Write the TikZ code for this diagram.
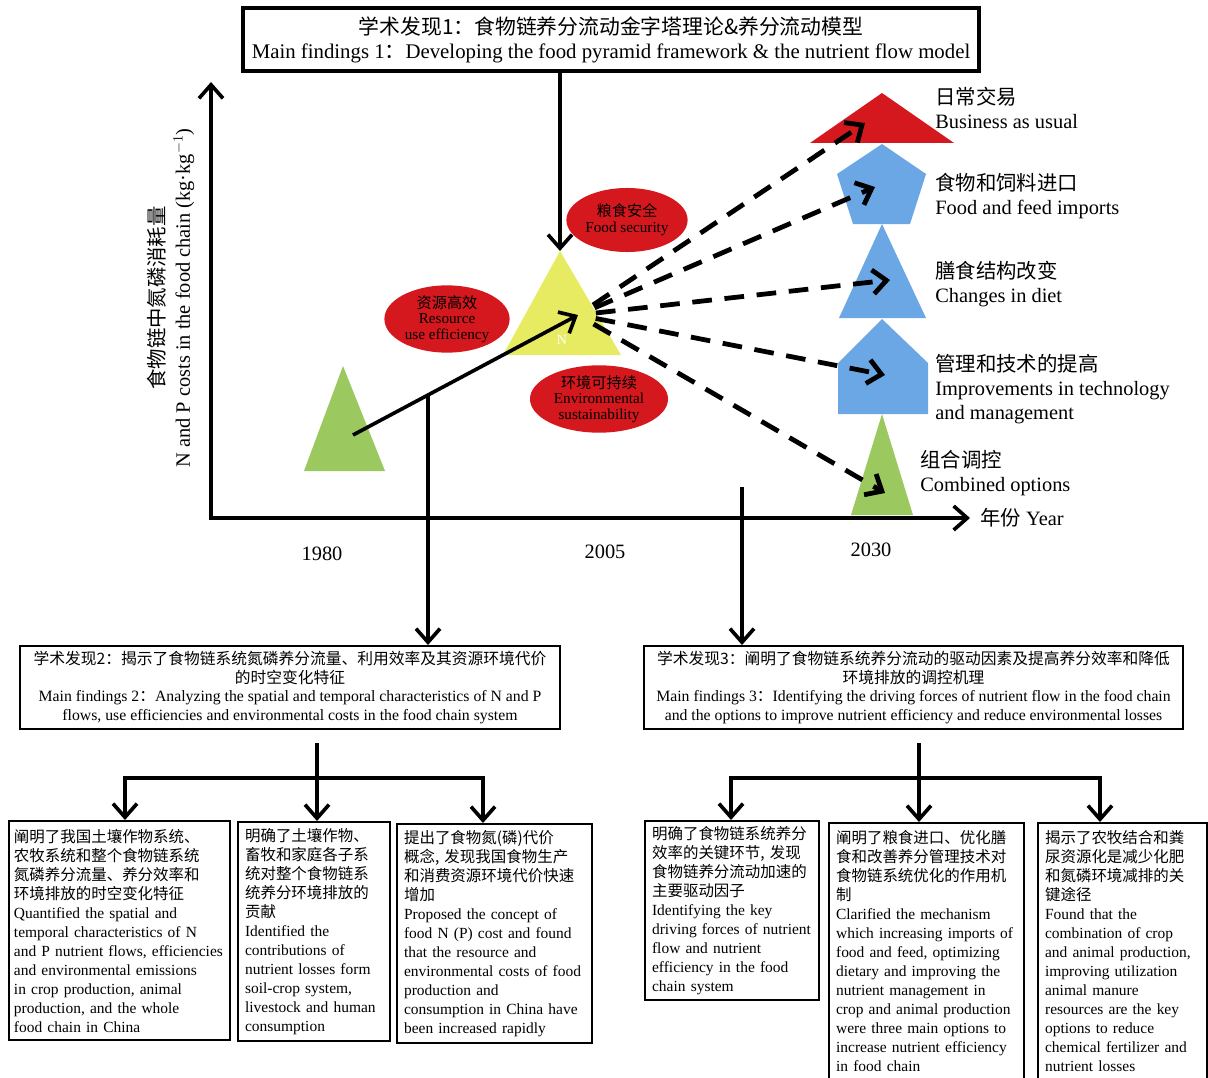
\documentclass[tikz,border=0pt]{standalone}
\usepackage{fontspec}
\setmainfont{Liberation Serif}
\newfontfamily\cjk{Noto Sans CJK SC}
\usepackage{tikz}
\usetikzlibrary{arrows.meta,shapes.geometric,calc}
\definecolor{alarm}{HTML}{D5171E}
\definecolor{sky}{HTML}{6BA6E5}
\definecolor{leaf}{HTML}{9BC960}
\definecolor{lemon}{HTML}{E7EB62}
\newcommand\zh[1]{{\cjk #1}}
\tikzset{
  >={Straight Barb[length=3.4mm,width=6mm]},
  head/.style={draw,line width=#1,align=center,inner sep=0pt},
  head/.default=1.4pt,
  leafbox/.style={draw,line width=1.5pt,align=left,anchor=north west,inner xsep=5pt,inner ysep=3pt,
                  text width=#1,font=\fontsize{11}{13.5}\selectfont},
  goal/.style={ellipse,fill=alarm,inner sep=0pt,align=center,font=\fontsize{10.8}{11.2}\selectfont},
  link/.style={line width=2.6pt},
  flow/.style={->,link},
  axis/.style={<->,link},
  scen/.style={flow,line width=3.4pt,dash pattern=on 14pt off 9pt,shorten <=0.45cm},
  tag/.style={anchor=west,align=left,inner sep=0pt,font=\fontsize{14.5}{17}\selectfont},
  yr/.style={font=\fontsize{14.5}{17}\selectfont},
}

\begin{document}
\begin{tikzpicture}[x=0.025cm,y=-0.025cm]
  \useasboundingbox (0,0) rectangle (1208,1077);
  % axes
  \coordinate (org) at (211,518);
  \coordinate (ytip) at (211,82);
  \coordinate (xtip) at (970,518);
  \draw[axis] (ytip) -- (org) -- (xtip);
  \node[rotate=90,align=center,font=\fontsize{14.5}{17.7}\selectfont] (ylab) at (171,298)
      {\zh{食物链中氮磷消耗量}\\N and P costs in the food chain (kg·kg$^{-1}$)};
  \node[tag] (yearlab) at (980,518) {\zh{年份} Year};
  \node[yr] (y1980) at (322,554) {1980};
  \node[yr] (y2005) at (605,552) {2005};
  \node[yr] (y2030) at (871,550) {2030};
  % pyramids
  \fill[leaf] (343,366) -- (385,471) -- (304,471) -- cycle;
  \fill[lemon] (560,251) -- (621,355) -- (503,355) -- cycle;
  \fill[alarm] (882,93) -- (954,143) -- (810,143) -- cycle;
  \fill[sky] (882,144) -- (926,174) -- (910,224) -- (853,224) -- (837,174) -- cycle;
  \fill[sky] (882,224) -- (926,318) -- (839,318) -- cycle;
  \fill[sky] (882,319) -- (928,363) -- (928,414) -- (838,414) -- (838,363) -- cycle;
  \fill[leaf] (882,414) -- (913,515) -- (851,515) -- cycle;
  \node[white,font=\fontsize{10}{10}\selectfont,inner sep=0pt] (nmark) at (562,340) {N};
  \coordinate (p1980) at (353,435);
  \coordinate (hub) at (578,315);
  \coordinate (apex) at (560,251);
  \coordinate (brk1) at (428,395);
  \coordinate (brk2) at (742,487);
  \coordinate (bau) at (865,123);
  \coordinate (imp) at (875,187);
  \coordinate (diet) at (890,280);
  \coordinate (tech) at (885,375);
  \coordinate (mix) at (885,493);
  % scenarios
  \node[tag] (baulab) at (935,108) {\zh{日常交易}\\Business as usual};
  \node[tag] (implab) at (935,196) {\zh{食物和饲料进口}\\Food and feed imports};
  \node[tag] (dietlab) at (935,284) {\zh{膳食结构改变}\\Changes in diet};
  \node[tag] (techlab) at (935,389) {\zh{管理和技术的提高}\\Improvements in technology\\and management};
  \node[tag] (mixlab) at (920,473) {\zh{组合调控}\\Combined options};
  % findings
  \node[head=2.8pt,minimum width=18.4cm,minimum height=1.575cm,font=\fontsize{14.8}{17}\selectfont] (find1) at (611,39.5)
      {\zh{学术发现1：食物链养分流动金字塔理论\&养分流动模型}\\Main findings 1\zh{：}Developing the food pyramid framework \& the nutrient flow model};
  \draw[flow] (find1.south -| apex) -- (apex);
  \draw[flow] (p1980) -- (hub);
  \foreach \t in {bau,imp,diet,tech,mix} \draw[scen] (hub) -- (\t);
  \node[goal,minimum width=3.03cm,minimum height=1.6cm] (secure) at (627,220) {\zh{粮食安全}\\Food security};
  \node[goal,minimum width=3.13cm,minimum height=1.63cm] (effic) at (447,319) {\zh{资源高效}\\Resource\\use efficiency};
  \node[goal,minimum width=3.45cm,minimum height=1.63cm] (sustain) at (599,399) {\zh{环境可持续}\\Environmental\\sustainability};
  \node[head,minimum width=13.5cm,minimum height=2.075cm,font=\fontsize{11.2}{13.5}\selectfont] (find2) at (290,687.5)
      {\zh{学术发现2：揭示了食物链系统氮磷养分流量、利用效率及其资源环境代价}\\\zh{的时空变化特征}\\
       Main findings 2\zh{：}Analyzing the spatial and temporal characteristics of N and P\\
       flows, use efficiencies and environmental costs in the food chain system};
  \node[head,minimum width=13.475cm,minimum height=2.075cm,font=\fontsize{11.2}{13.5}\selectfont] (find3) at (913.5,687.5)
      {\zh{学术发现3：阐明了食物链系统养分流动的驱动因素及提高养分效率和降低}\\\zh{环境排放的调控机理}\\
       Main findings 3\zh{：}Identifying the driving forces of nutrient flow in the food chain\\
       and the options to improve nutrient efficiency and reduce environmental losses};
  \draw[flow] (brk1) -- (brk1 |- find2.north);
  \draw[flow] (brk2) -- (brk2 |- find3.north);
  % details
  \node[leafbox=5.28cm,inner xsep=3.5pt,minimum height=5.475cm] (d1) at (8,820)
      {\zh{阐明了我国土壤作物系统、}\\\zh{农牧系统和整个食物链系统}\\\zh{氮磷养分流量、养分效率和}\\\zh{环境排放的时空变化特征}\\
       Quantified the spatial and\\temporal characteristics of N\\and P nutrient flows, efficiencies\\and environmental emissions\\
       in crop production, animal\\production, and the whole\\food chain in China};
  \node[leafbox=3.45cm,minimum height=5.475cm] (d2) at (237,821)
      {\zh{明确了土壤作物、}\\\zh{畜牧和家庭各子系}\\\zh{统对整个食物链系}\\\zh{统养分环境排放的}\\\zh{贡献}\\
       Identified the\\contributions of\\nutrient losses form\\soil-crop system,\\livestock and human\\consumption};
  \node[leafbox=4.52cm,minimum height=5.475cm] (d3) at (396,823)
      {\zh{提出了食物氮(磷)代价}\\\zh{概念, 发现我国食物生产}\\\zh{和消费资源环境代价快速}\\\zh{增加}\\
       Proposed the concept of\\food N (P) cost and found\\that the resource and\\environmental costs of food\\
       production and\\consumption in China have\\been increased rapidly};
  \node[leafbox=4cm,minimum height=4.475cm] (d4) at (644,820)
      {\zh{明确了食物链系统养分}\\\zh{效率的关键环节, 发现}\\\zh{食物链养分流动加速的}\\\zh{主要驱动因子}\\
       Identifying the key\\driving forces of nutrient\\flow and nutrient\\efficiency in the food\\chain system};
  \node[leafbox=4.52cm,minimum height=6.4cm] (d5) at (828,822)
      {\zh{阐明了粮食进口、优化膳}\\\zh{食和改善养分管理技术对}\\\zh{食物链系统优化的作用机}\\\zh{制}\\
       Clarified the mechanism\\which increasing imports of\\food and feed, optimizing\\dietary and improving the\\
       nutrient management in\\crop and animal production\\were three main options to\\increase nutrient efficiency\\in food chain};
  \node[leafbox=3.87cm,minimum height=6.4cm] (d6) at (1037,822)
      {\zh{揭示了农牧结合和粪}\\\zh{尿资源化是减少化肥}\\\zh{和氮磷环境减排的关}\\\zh{键途径}\\
       Found that the\\combination of crop\\and animal production,\\improving utilization\\
       animal manure\\resources are the key\\options to reduce\\chemical fertilizer and\\nutrient losses};
  % branches
  \coordinate (split2) at (317,743);
  \coordinate (t1) at (125,778);
  \coordinate (t3) at (483,778);
  \draw[flow] (split2 |- t1) -- (t1) -- (t1 |- d1.north);
  \draw[flow] (split2 |- t1) -- (t3) -- (t3 |- d3.north);
  \draw[flow] (split2) -- (split2 |- d2.north);
  \coordinate (split3) at (919,743);
  \coordinate (t4) at (731,778);
  \coordinate (t6) at (1100,778);
  \draw[flow] (split3 |- t4) -- (t4) -- (t4 |- d4.north);
  \draw[flow] (split3 |- t4) -- (t6) -- (t6 |- d6.north);
  \draw[flow] (split3) -- (split3 |- d5.north);
\end{tikzpicture}
\end{document}
